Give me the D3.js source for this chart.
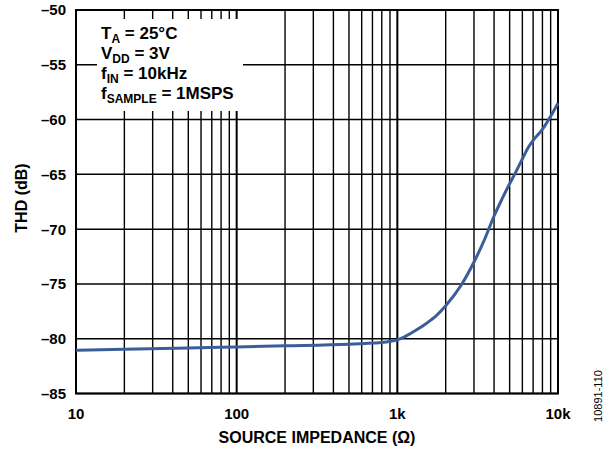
<!DOCTYPE html>
<html><head><meta charset="utf-8">
<script src="https://cdn.jsdelivr.net/npm/d3@7"></script>
<style>body{margin:0;background:#fff}svg{display:block}text{font-family:"Liberation Sans",Arial,sans-serif}</style>
</head><body>
<svg id="c" width="613" height="452"></svg>
<script>
const impedance = [10, 20, 50, 100, 200, 500, 700, 850, 1000, 1100, 1200, 1350, 1500, 1750, 2000, 2500, 3000, 3500, 4000, 4500, 5000, 5500, 6000, 6500, 7000, 8000, 9000, 10000];
const thd = [-81.05, -80.97, -80.85, -80.75, -80.65, -80.5, -80.4, -80.3, -80.1, -79.85, -79.55, -79.1, -78.65, -77.9, -77.0, -75.1, -73.0, -70.9, -68.8, -67.2, -65.85, -64.7, -63.6, -62.6, -61.9, -60.9, -59.7, -58.5];
const yTicks = [-50, -55, -60, -65, -70, -75, -80, -85];
const xTicks = [10, 100, 1000, 10000];
const xTickLabels = ["10", "100", "1k", "10k"];

const svg = d3.select("#c");
const L = 76, R = 558, T = 10, B = 393.5;
const x = d3.scaleLog().domain([10, 10000]).range([L, R]);
const y = d3.scaleLinear().domain([-85, -50]).range([B, T]);

// minor vertical gridlines
const minor = [];
for (let d = 10; d < 10000; d *= 10) for (let k = 2; k <= 9; k++) minor.push(d * k);
svg.append("g").selectAll("line").data(minor).join("line")
  .attr("x1", d => x(d)).attr("x2", d => x(d)).attr("y1", T).attr("y2", B)
  .attr("stroke", "#000").attr("stroke-width", 1.4);
svg.append("g").selectAll("line").data(xTicks).join("line")
  .attr("x1", d => x(d)).attr("x2", d => x(d)).attr("y1", T).attr("y2", B)
  .attr("stroke", "#000").attr("stroke-width", 2);
svg.append("g").selectAll("line").data(yTicks).join("line")
  .attr("x1", L).attr("x2", R).attr("y1", d => y(d)).attr("y2", d => y(d))
  .attr("stroke", "#000").attr("stroke-width", 1.5);

// legend box (white)
svg.append("rect").attr("x", 97).attr("y", 19).attr("width", 146).attr("height", 92).attr("fill", "#fff");

// frame
svg.append("rect").attr("x", L).attr("y", T).attr("width", R - L).attr("height", B - T)
  .attr("fill", "none").attr("stroke", "#000").attr("stroke-width", 2);

// curve
const pts = impedance.map((v, i) => [v, thd[i]]);
svg.append("path").datum(pts)
  .attr("d", d3.line().x(d => x(d[0])).y(d => y(d[1])).curve(d3.curveMonotoneX))
  .attr("fill", "none").attr("stroke", "#3b5e9b").attr("stroke-width", 3);

// y tick labels
svg.append("g").selectAll("text").data(yTicks).join("text")
  .attr("x", 66).attr("y", d => y(d)).attr("dy", "0.36em").attr("text-anchor", "end")
  .attr("font-size", 15).attr("font-weight", "bold").text(d => "–" + Math.abs(d));
// x tick labels
svg.append("g").selectAll("text").data(xTicks).join("text")
  .attr("x", d => x(d)).attr("y", 419).attr("text-anchor", "middle")
  .attr("font-size", 15).attr("font-weight", "bold").text((d, i) => xTickLabels[i]);

// axis titles
svg.append("text").attr("x", 317).attr("y", 443).attr("text-anchor", "middle")
  .attr("font-size", 16).attr("font-weight", "bold").text("SOURCE IMPEDANCE (Ω)");
svg.append("text").attr("transform", "translate(27,198) rotate(-90)").attr("text-anchor", "middle")
  .attr("font-size", 16).attr("font-weight", "bold").text("THD (dB)");
svg.append("text").attr("transform", "translate(602,396) rotate(-90)").attr("text-anchor", "middle")
  .attr("font-size", 11).text("10891-110");

// legend text
const leg = [["T", "A", " = 25°C"], ["V", "DD", " = 3V"], ["f", "IN", " = 10kHz"], ["f", "SAMPLE", " = 1MSPS"]];
leg.forEach((l, i) => {
  const t = svg.append("text").attr("x", 101).attr("y", 39 + i * 20)
    .attr("font-size", 17).attr("font-weight", "bold");
  t.append("tspan").text(l[0]);
  t.append("tspan").attr("font-size", 12).attr("dy", 4).text(l[1]);
  t.append("tspan").attr("dy", -4).text(l[2]);
});
</script>
</body></html>
